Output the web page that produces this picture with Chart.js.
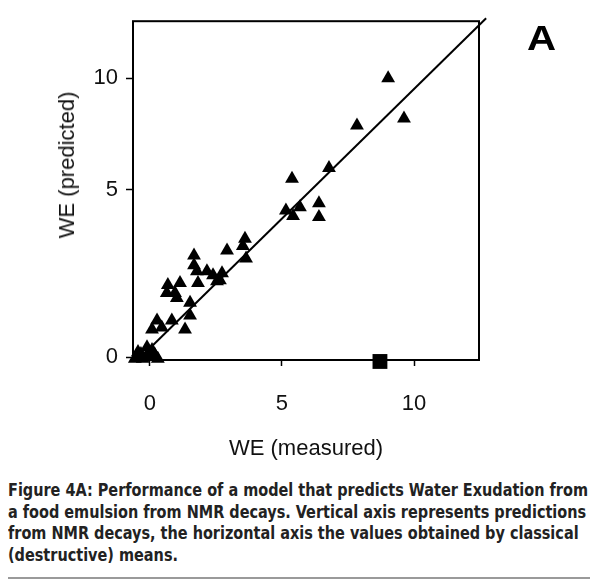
<!DOCTYPE html>
<html>
<head>
<meta charset="utf-8">
<script src="https://cdn.jsdelivr.net/npm/chart.js@4/dist/chart.umd.min.js"></script>
<style>
  body { margin: 0; background: #fff; width: 600px; height: 582px; position: relative; overflow: hidden; }
  #wrap { position: absolute; left: 0; top: 0; width: 600px; height: 470px; }
  #panel { position: absolute; left: 527px; top: 18px; line-height: 1; font: bold 35px "Liberation Sans", Arial, sans-serif; color: #000;
    transform: scaleX(1.15); transform-origin: 0 0; }
  #ytitle { position: absolute; left: 67px; top: 165px; transform: translate(-50%, -50%) rotate(-90deg);
    font: 22px "Liberation Sans", Arial, sans-serif; color: #111; white-space: nowrap; }
  #caption { position: absolute; left: 8px; top: 480px; font-family: "DejaVu Sans Condensed", "Liberation Sans Narrow", "Noto Sans", sans-serif;
    font-stretch: condensed; font-weight: bold; font-size: 17px; line-height: 21.7px; color: #222; white-space: nowrap;
    transform: scaleX(0.945); transform-origin: 0 0; }
  #rule { position: absolute; left: 8px; top: 577px; width: 582px; height: 2px; background: #9a9a9a; }
</style>
</head>
<body>
<div id="wrap"><canvas id="chart" width="600" height="470"></canvas></div>
<div id="panel">A</div>
<div id="ytitle">WE (predicted)</div>
<div id="caption">Figure 4A: Performance of a model that predicts Water Exudation from<br>a food emulsion from NMR decays. Vertical axis represents predictions<br>from NMR decays, the horizontal axis the values obtained by classical<br>(destructive) means.</div>
<div id="rule"></div>
<script>
// ====== DATA ======
const xMeasured = [9.02, 9.62, 7.84, 6.78, 5.38, 5.15, 5.68, 5.42, 6.40, 6.40,
  2.92, 3.60, 3.52, 3.64, 1.67, 1.67, 1.78, 1.82, 2.16, 2.39, 2.73, 2.65, 2.54,
  0.68, 1.14, 0.64, 0.95, 1.02, 1.52, 1.52, 0.27, 0.83, 0.08, 0.45, 1.33,
  -0.45, -0.11, -0.57, -0.27, 0.19, 0.30, 0.08, -0.34, 0.0, -0.15];
const yPredicted = [10.0, 8.19, 7.88, 5.97, 5.49, 4.38, 4.47, 4.21, 4.59, 4.18,
  3.18, 3.53, 3.32, 2.94, 3.03, 2.74, 2.56, 2.21, 2.56, 2.44, 2.50, 2.29, 2.26,
  2.15, 2.21, 1.91, 1.91, 1.76, 1.62, 1.24, 1.09, 1.09, 0.82, 0.88, 0.82,
  0.15, 0.29, -0.06, -0.06, 0.06, -0.06, 0.21, 0.09, 0.12, 0.0];
const outlierX = [8.71];
const outlierY = [-0.15];
const fitX = [-0.34, 12.73];
const fitY = [0, 12.7];
const xTicks = [0, 5, 10];
const yTicks = [0, 5, 10];

// ====== y axis: the original spaces 0-5 wider than 5-10 ======
const yBreakVals = [-0.1, 0, 5, 10, 12.57];
const yBreakFrac = [0, 0.0087, 0.5029, 0.8314, 1];

class BrokenScale extends Chart.LinearScale {
  static id = "broken";
  static defaults = { ticks: { callback: (v) => String(v) } };
  toFrac(v) {
    const b = yBreakVals, f = yBreakFrac;
    let i = 0;
    while (i < b.length - 2 && v > b[i + 1]) i++;
    return f[i] + (v - b[i]) / (b[i + 1] - b[i]) * (f[i + 1] - f[i]);
  }
  getPixelForValue(v) {
    return this.getPixelForDecimal(this.toFrac(v));
  }
  getValueForPixel(p) {
    const d = this.getDecimalForPixel(p);
    const b = yBreakVals, f = yBreakFrac;
    let i = 0;
    while (i < f.length - 2 && d > f[i + 1]) i++;
    return b[i] + (d - f[i]) / (f[i + 1] - f[i]) * (b[i + 1] - b[i]);
  }
}
Chart.register(BrokenScale);

// box round the plot area (all four sides)
const frameBox = {
  id: "frameBox",
  beforeDatasetsDraw(c) {
    const { ctx, chartArea: a } = c;
    ctx.save();
    ctx.strokeStyle = "#000";
    ctx.lineWidth = 2;
    ctx.strokeRect(a.left, a.top, a.right - a.left, a.bottom - a.top);
    ctx.restore();
  },
};

const axisFont = { family: "'Liberation Sans', Arial, sans-serif", size: 22 };

const chart = new Chart(document.getElementById("chart"), {
  type: "scatter",
  data: {
    datasets: [
      {
        type: "line",
        data: fitX.map((x, i) => ({ x, y: fitY[i] })),
        borderColor: "#000",
        borderWidth: 2,
        pointRadius: 0,
        clip: false,
      },
      {
        data: xMeasured.map((x, i) => ({ x, y: yPredicted[i] })),
        pointStyle: "triangle",
        pointRadius: 8,
        backgroundColor: "#000",
        borderColor: "#000",
        borderWidth: 0,
        clip: false,
      },
      {
        data: outlierX.map((x, i) => ({ x, y: outlierY[i] })),
        pointStyle: "rect",
        pointRadius: 10.5,
        backgroundColor: "#000",
        borderColor: "#000",
        borderWidth: 0,
        clip: false,
      },
    ],
  },
  options: {
    responsive: false,
    animation: false,
    layout: { padding: { top: 16, right: 121, left: 0, bottom: 0 } },
    plugins: { legend: { display: false }, tooltip: { enabled: false } },
    scales: {
      x: {
        type: "linear",
        min: -0.64,
        max: 12.46,
        afterBuildTicks: (s) => { s.ticks = xTicks.map((v) => ({ value: v })); },
        afterFit: (s) => { s.height = 110; },
        ticks: { font: axisFont, color: "#111", padding: 25, maxRotation: 0, callback: (v) => String(v) },
        grid: { drawOnChartArea: false, tickLength: 6, tickWidth: 1.5, tickColor: "#000" },
        border: { display: false },
        title: { display: true, text: "WE (measured)", font: axisFont, color: "#111", padding: { top: 0, bottom: 8 } },
      },
      y: {
        type: "broken",
        min: -0.1,
        max: 12.57,
        afterBuildTicks: (s) => { s.ticks = yTicks.map((v) => ({ value: v })); },
        afterFit: (s) => { s.width = 133; },
        ticks: { font: axisFont, color: "#111", padding: 8, callback: (v) => String(v) },
        grid: { drawOnChartArea: false, tickLength: 7, tickWidth: 1.5, tickColor: "#000" },
        border: { display: false },
      },
    },
  },
  plugins: [frameBox],
});
</script>
</body>
</html>
